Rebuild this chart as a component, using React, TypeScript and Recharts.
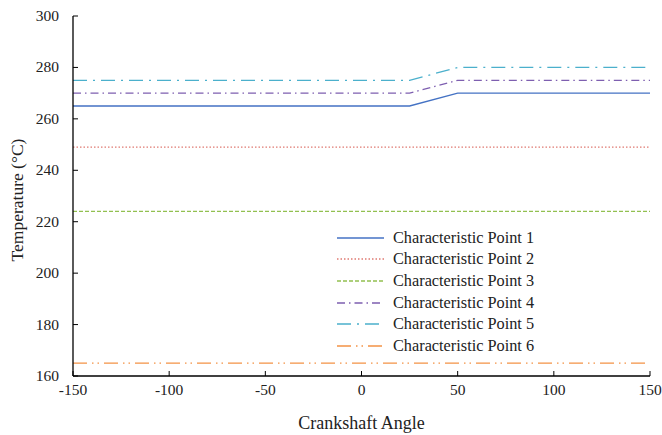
import { LineChart, Line, XAxis, YAxis, Legend } from 'recharts';

// crankshaft angle samples
const angles = [-150, 25, 50, 150];

// temperatures (°C) per characteristic point
const point1 = [265, 265, 270, 270];
const point2 = [249, 249, 249, 249];
const point3 = [224, 224, 224, 224];
const point4 = [270, 270, 275, 275];
const point5 = [275, 275, 280, 280];
const point6 = [165, 165, 165, 165];

const xTicks = [-150, -100, -50, 0, 50, 100, 150];
const yTicks = [160, 180, 200, 220, 240, 260, 280, 300];

const SERIES = [
  { key: 'p1', name: 'Characteristic Point 1', values: point1, color: '#4472C4', dash: undefined },
  { key: 'p2', name: 'Characteristic Point 2', values: point2, color: '#E07A72', dash: '1.5 2' },
  { key: 'p3', name: 'Characteristic Point 3', values: point3, color: '#92C050', dash: '4 2' },
  { key: 'p4', name: 'Characteristic Point 4', values: point4, color: '#7E5FB0', dash: '8 4 1.5 4' },
  { key: 'p5', name: 'Characteristic Point 5', values: point5, color: '#4BB0CC', dash: '14 6 2 6' },
  { key: 'p6', name: 'Characteristic Point 6', values: point6, color: '#F39245', dash: '14 5 1.5 4 1.5 5' },
];

const data = angles.map((a, i) => {
  const row: Record<string, number> = { angle: a };
  SERIES.forEach(s => { row[s.key] = s.values[i]; });
  return row;
});

const FONT = '"Liberation Serif", "Times New Roman", serif';

const XTick = ({ x, y, payload }: any) => (
  <g>
    <line x1={x} x2={x} y1={y} y2={y - 5} stroke="#000" strokeWidth={1} />
    <text x={x} y={y + 19} textAnchor="middle" fontFamily={FONT} fontSize={15.5} fill="#222">
      {payload.value}
    </text>
  </g>
);

const YTick = ({ x, y, payload }: any) => (
  <g>
    <line x1={x} x2={x + 5} y1={y} y2={y} stroke="#000" strokeWidth={1} />
    <text x={x - 14} y={y + 5} textAnchor="end" fontFamily={FONT} fontSize={15.5} fill="#222">
      {payload.value}
    </text>
  </g>
);

const LegendContent = () => (
  <div style={{ fontFamily: FONT, fontSize: 16.3, color: '#222' }}>
    {SERIES.map(s => (
      <div key={s.key} style={{ display: 'flex', alignItems: 'center', height: 21.6 }}>
        <svg width={56} height={10} style={{ marginRight: 3 }}>
          <line x1={3} x2={50} y1={5} y2={5} stroke={s.color} strokeWidth={1.3} strokeDasharray={s.dash} />
        </svg>
        <span>{s.name}</span>
      </div>
    ))}
  </div>
);

export default function App() {
  return (
    <div style={{ position: 'absolute', left: 0, top: 0, width: 662, height: 435, background: '#fff' }}>
      <LineChart width={662} height={435} data={data} margin={{ top: 16, right: 12, bottom: 58, left: 0 }}>
        <XAxis
          dataKey="angle"
          type="number"
          domain={[-150, 150]}
          ticks={xTicks}
          tick={<XTick />}
          tickSize={0}
          tickMargin={0}
          tickLine={false}
          axisLine={{ stroke: '#000', strokeWidth: 1.3 }}
          label={{ value: 'Crankshaft Angle', position: 'insideBottom', offset: -52, fontFamily: FONT, fontSize: 18, fill: '#222' }}
          height={1}
        />
        <XAxis xAxisId="top" orientation="top" dataKey="angle" type="number" domain={[-150, 150]} tick={false} tickLine={false} axisLine={{ stroke: '#000', strokeWidth: 1.3 }} height={0} />
        <YAxis
          type="number"
          domain={[160, 300]}
          ticks={yTicks}
          tick={<YTick />}
          tickSize={0}
          tickMargin={0}
          tickLine={false}
          axisLine={{ stroke: '#000', strokeWidth: 1.3 }}
          width={73}
          label={{ value: 'Temperature (°C)', angle: -90, position: 'insideLeft', offset: 17, dy: 4, fontFamily: FONT, fontSize: 17.5, fill: '#222', style: { textAnchor: 'middle' } }}
        />
        <YAxis yAxisId="right" orientation="right" type="number" domain={[160, 300]} tick={false} tickLine={false} axisLine={{ stroke: '#000', strokeWidth: 1.3 }} width={0} />
        <Legend content={<LegendContent />} layout="vertical" align="center" verticalAlign="middle" wrapperStyle={{ left: 334, top: 227, width: 300 }} />
        {SERIES.map(s => (
          <Line
            key={s.key}
            dataKey={s.key}
            name={s.name}
            type="linear"
            stroke={s.color}
            strokeWidth={1.3}
            strokeDasharray={s.dash}
            dot={false}
            activeDot={false}
            isAnimationActive={false}
          />
        ))}
      </LineChart>
    </div>
  );
}
